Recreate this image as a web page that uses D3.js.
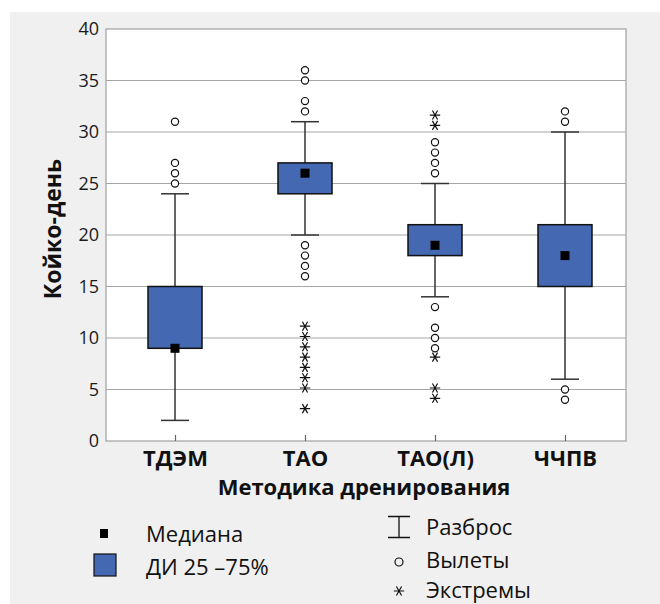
<!DOCTYPE html>
<html>
<head>
  <meta charset="utf-8">
  <title>Койко-день по методикам дренирования</title>
  <style>
    body { margin: 0; background-color: white; }
    svg { display: block; font-family: "Open Sans", sans-serif; }
  </style>
</head>
<body>
  <svg width="660" height="604"></svg>

  <script src="https://d3js.org/d3.v7.min.js"></script>
  <script>
    const categories = ["ТДЭМ", "ТАО", "ТАО(Л)", "ЧЧПВ"];
    const q1 = [9, 24, 18, 15];
    const q3 = [15, 27, 21, 21];
    const median = [9, 26, 19, 18];
    const whiskerLow = [2, 20, 14, 6];
    const whiskerHigh = [24, 31, 25, 30];
    const outliers = [
      [25, 26, 27, 31],
      [16, 17, 18, 19, 32, 33, 35, 36],
      [9, 10, 11, 13, 26, 27, 28, 29],
      [4, 5, 31, 32]
    ];
    const extremes = [
      [],
      [3, 5, 6, 7, 8, 9, 10, 11],
      [4, 5, 8, 30.5, 31.5],
      []
    ];
    const yTicks = [0, 5, 10, 15, 20, 25, 30, 35, 40];
    const yTitle = "Койко-день";
    const xTitle = "Методика дренирования";
    const legendLabels = ["Медиана", "ДИ 25 –75%", "Разброс", "Вылеты", "Экстремы"];

    const width = 660;
    const height = 604;
    const plot = { left: 106, right: 626, top: 29, bottom: 441 };
    const boxColor = "#4468b1";
    const boxWidth = 54;
    const capWidth = 28;

    const svg = d3.select("svg");

    // gray panel
    svg.append("rect")
      .attr("x", 10).attr("y", 12)
      .attr("width", width - 10).attr("height", height - 12)
      .attr("fill", "#f0f0f0");

    svg.append("rect")
      .attr("x", plot.left).attr("y", plot.top)
      .attr("width", plot.right - plot.left).attr("height", plot.bottom - plot.top)
      .attr("fill", "white");

    const x = d3.scalePoint()
      .domain(categories)
      .range([plot.left + 4, plot.right + 4])
      .padding(0.5);
    const y = d3.scaleLinear()
      .domain([0, 40])
      .range([plot.bottom, plot.top]);

    // grid lines
    svg.append("g")
      .selectAll("line")
      .data(yTicks.slice(1, -1))
      .join("line")
      .attr("x1", plot.left).attr("x2", plot.right)
      .attr("y1", d => y(d)).attr("y2", d => y(d))
      .attr("stroke", "#a6a6a6")
      .attr("stroke-width", 1);

    // frame
    svg.append("rect")
      .attr("x", plot.left).attr("y", plot.top)
      .attr("width", plot.right - plot.left).attr("height", plot.bottom - plot.top)
      .attr("fill", "none")
      .attr("stroke", "#a0a0a0")
      .attr("stroke-width", 1.2);

    // y axis
    const yAxis = svg.append("g")
      .attr("transform", `translate(${plot.left - 7},0)`)
      .call(d3.axisLeft(y).tickValues(yTicks).tickSize(0).tickPadding(0));
    yAxis.select(".domain").remove();
    yAxis.selectAll("text")
      .attr("font-family", "Open Sans")
      .attr("font-size", 18)
      .attr("fill", "#1a1a1a");

    // x axis
    const xAxis = svg.append("g")
      .attr("transform", `translate(0,${plot.bottom})`)
      .call(d3.axisBottom(x).tickSize(-6).tickPadding(9));
    xAxis.select(".domain").remove();
    xAxis.selectAll("line").attr("stroke", "#666").attr("stroke-width", 1.2);
    xAxis.selectAll("text")
      .attr("font-family", "Open Sans")
      .attr("font-size", 22)
      .attr("font-weight", "bold")
      .attr("fill", "#111");

    // axis titles
    svg.append("text")
      .attr("x", 364).attr("y", 495)
      .attr("text-anchor", "middle")
      .attr("font-size", 22).attr("font-weight", "bold").attr("fill", "#111")
      .text(xTitle);
    svg.append("text")
      .attr("transform", "translate(61,229) rotate(-90)")
      .attr("text-anchor", "middle")
      .attr("font-size", 23).attr("font-weight", "bold").attr("fill", "#111")
      .text(yTitle);

    const idx = d3.range(categories.length);
    const g = svg.append("g");

    // whiskers
    g.selectAll(".whisker")
      .data(idx)
      .join("line")
      .attr("class", "whisker")
      .attr("x1", i => x(categories[i])).attr("x2", i => x(categories[i]))
      .attr("y1", i => y(whiskerLow[i])).attr("y2", i => y(whiskerHigh[i]))
      .attr("stroke", "#333").attr("stroke-width", 1.5);
    g.selectAll(".capLow")
      .data(idx)
      .join("line")
      .attr("class", "capLow")
      .attr("x1", i => x(categories[i]) - capWidth / 2).attr("x2", i => x(categories[i]) + capWidth / 2)
      .attr("y1", i => y(whiskerLow[i])).attr("y2", i => y(whiskerLow[i]))
      .attr("stroke", "#333").attr("stroke-width", 1.5);
    g.selectAll(".capHigh")
      .data(idx)
      .join("line")
      .attr("class", "capHigh")
      .attr("x1", i => x(categories[i]) - capWidth / 2).attr("x2", i => x(categories[i]) + capWidth / 2)
      .attr("y1", i => y(whiskerHigh[i])).attr("y2", i => y(whiskerHigh[i]))
      .attr("stroke", "#333").attr("stroke-width", 1.5);

    // boxes
    g.selectAll(".box")
      .data(idx)
      .join("rect")
      .attr("class", "box")
      .attr("x", i => x(categories[i]) - boxWidth / 2)
      .attr("y", i => y(q3[i]))
      .attr("width", boxWidth)
      .attr("height", i => y(q1[i]) - y(q3[i]))
      .attr("fill", boxColor)
      .attr("stroke", "#111").attr("stroke-width", 1.5);

    // medians
    g.selectAll(".median")
      .data(idx)
      .join("rect")
      .attr("class", "median")
      .attr("x", i => x(categories[i]) - 4.5)
      .attr("y", i => y(median[i]) - 4.5)
      .attr("width", 9).attr("height", 9)
      .attr("fill", "#000");

    // outliers
    const outPts = idx.flatMap(i => outliers[i].map(v => ({ c: categories[i], v })));
    g.selectAll(".outlier")
      .data(outPts)
      .join("circle")
      .attr("class", "outlier")
      .attr("cx", d => x(d.c)).attr("cy", d => y(d.v))
      .attr("r", 3.6)
      .attr("fill", "white")
      .attr("stroke", "#111").attr("stroke-width", 1.2);

    // extremes
    const asterisk = d3.symbol().type(d3.symbolAsterisk).size(75);
    const extPts = idx.flatMap(i => extremes[i].map(v => ({ c: categories[i], v })));
    g.selectAll(".extreme")
      .data(extPts)
      .join("path")
      .attr("class", "extreme")
      .attr("d", asterisk)
      .attr("transform", d => `translate(${x(d.c)},${y(d.v) - 1.5}) rotate(90)`)
      .attr("fill", "none")
      .attr("stroke", "#111").attr("stroke-width", 1.2);

    // legend
    const legend = svg.append("g").attr("font-size", 22).attr("fill", "#111");
    legend.append("rect")
      .attr("x", 100).attr("y", 529).attr("width", 8).attr("height", 9)
      .attr("fill", "#000");
    legend.append("text").attr("x", 146).attr("y", 542).text(legendLabels[0]);
    legend.append("rect")
      .attr("x", 94).attr("y", 554).attr("width", 22).attr("height", 22)
      .attr("fill", boxColor).attr("stroke", "#111").attr("stroke-width", 1.2);
    legend.append("text").attr("x", 146).attr("y", 575).text(legendLabels[1]);

    legend.append("path")
      .attr("d", "M388,516.5H410M399,516.5V537.5M388,537.5H410")
      .attr("fill", "none").attr("stroke", "#111").attr("stroke-width", 1.3);
    legend.append("text").attr("x", 426).attr("y", 535).text(legendLabels[2]);
    legend.append("circle")
      .attr("cx", 399).attr("cy", 562).attr("r", 4)
      .attr("fill", "none").attr("stroke", "#111").attr("stroke-width", 1.2);
    legend.append("text").attr("x", 426).attr("y", 568).text(legendLabels[3]);
    legend.append("path")
      .attr("d", asterisk())
      .attr("transform", "translate(399,591) rotate(90)")
      .attr("fill", "none").attr("stroke", "#111").attr("stroke-width", 1.2);
    legend.append("text").attr("x", 426).attr("y", 598).text(legendLabels[4]);
  </script>
</body>
</html>
